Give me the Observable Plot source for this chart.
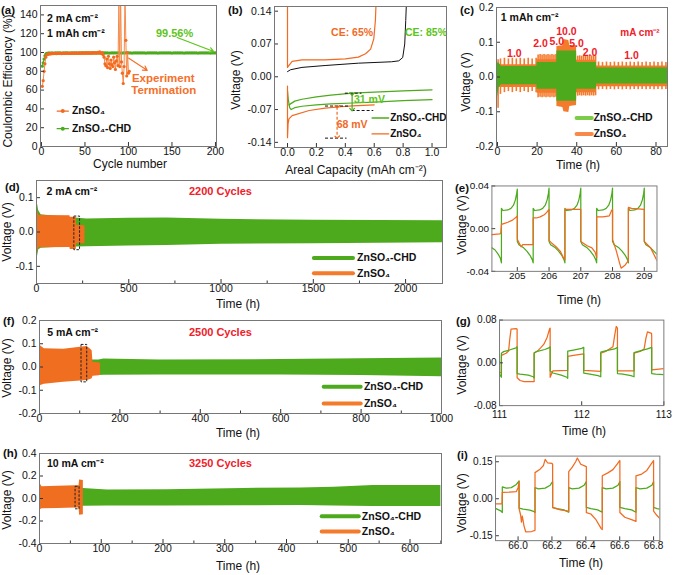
<!DOCTYPE html>
<html><head><meta charset="utf-8">
<script src="https://cdn.jsdelivr.net/npm/d3@7"></script>
<script src="https://cdn.jsdelivr.net/npm/@observablehq/plot@0.6"></script>
<style>
body{margin:0;background:#fff;}
#root{position:relative;width:677px;height:575px;overflow:hidden;font-family:"Liberation Sans",Arial,sans-serif;color:#111;}
.lbl{position:absolute;white-space:nowrap;font-size:12px;line-height:1;transform:translate(-50%,-50%);}
.rot{transform:translate(-50%,-50%) rotate(-90deg);}
.pl{position:absolute;font-weight:bold;font-size:11.5px;line-height:1;white-space:nowrap;}
#clip{position:absolute;left:455px;top:175px;width:222px;height:400px;overflow:hidden;}
</style></head><body><div id="root"><div id="clip"></div></div><script>
// ---------- DATA ----------
// (a) Coulombic efficiency
const aGreen = [[1,85.5],[2,89],[3,93],[4,96.5],[5,98.4],[6,99],[7,99.2],[8,99.3],[9,99.4],[10,99.4],
[12,99.5],[14,99.4],[16,99.6],[18,99.5],[20,99.5],[22,99.6],[24,99.4],[26,99.5],[28,99.6],[30,99.5],
[32,99.4],[34,99.6],[36,99.5],[38,99.5],[40,99.6],[42,99.4],[44,99.5],[46,99.6],[48,99.5],[50,99.5],
[52,99.6],[54,99.5],[56,99.4],[58,99.6],[60,99.5],[62,99.5],[64,99.6],[66,99.4],[68,99.5],[70,99.6],
[72,99.5],[74,99.5],[76,99.6],[78,99.4],[80,99.5],[82,99.6],[84,99.5],[86,99.5],[88,99.6],[90,99.5],
[92,99.4],[94,99.6],[96,99.5],[98,99.5],[100,99.6],[102,99.5],[104,99.4],[106,99.6],[108,99.5],[110,99.5],
[112,99.6],[114,99.5],[116,99.5],[118,99.6],[120,99.4],[122,99.5],[124,99.6],[126,99.5],[128,99.5],[130,99.6],
[132,99.5],[134,99.4],[136,99.6],[138,99.5],[140,99.5],[142,99.6],[144,99.5],[146,99.5],[148,99.6],[150,99.4],
[152,99.5],[154,99.6],[156,99.5],[158,99.5],[160,99.6],[162,99.5],[164,99.4],[166,99.6],[168,99.5],[170,99.5],
[172,99.6],[174,99.5],[176,99.5],[178,99.6],[180,99.4],[182,99.5],[184,99.6],[186,99.5],[188,99.5],[190,99.6],
[192,99.5],[194,99.4],[196,99.6],[198,99.5],[200,99.6]];
const aOrangeCE = [64,70,80,88,95,97.5,98,98.3,98.5,98.6,
98.8,98.7,99,98.9,99.1,99,98.8,99.2,99,99.1,
99,99.2,98.9,99.1,99.3,99,99.2,99.1,99.3,99.2,
99.1,99.3,99.2,99,99.4,99.2,99.3,99.1,99.3,99.4,
99.2,99.3,99.5,99.2,99.4,99.3,99.5,99.4,99.2,99.6,
99.4,99.5,99.3,99.6,99.4,99.5,99.6,99.3,99.5,99.6,
99.5,99.7,99.4,99.6,100.2,99.5,100.6,99.4,98.9,99.8,
97.5,95,88,86,93,84,96,88,83,92,
87,85,95,89,82,91,96,86,158,85,
160,90,78,67,85,165,113,75,100,78,80];
const aOrangeCycle = [1,2,3,4,5,6,7,8,9,10,11,12,13,14,15,16,17,18,19,20,21,22,23,24,25,26,27,28,29,30,
31,32,33,34,35,36,37,38,39,40,41,42,43,44,45,46,47,48,49,50,51,52,53,54,55,56,57,58,59,60,
61,62,63,64,65,66,67,68,69,70,71,72,73,74,75,76,77,78,79,80,81,82,83,84,85,86,87,88,89,90,
91,92,93,94,95,96,97,98,99,100,101];

// (b) voltage profiles [capacity, voltage]
const bOrangeCharge = [[0,0.16],[0,0.02],[0.009,0.024],[0.032,0.033],[0.1,0.036],[0.26,0.036],[0.4,0.038],[0.49,0.042],[0.54,0.049],[0.575,0.059],[0.597,0.081],[0.608,0.12],[0.613,0.16]];
const bBlackCharge = [[0,0.011],[0.021,0.015],[0.1,0.02],[0.26,0.024],[0.49,0.029],[0.72,0.032],[0.77,0.034],[0.797,0.041],[0.811,0.07],[0.818,0.12],[0.823,0.16]];
const bOrangeDis = [[0,-0.02],[0,-0.13],[0.004,-0.1],[0.01,-0.09],[0.032,-0.083],[0.15,-0.072],[0.26,-0.067],[0.37,-0.064],[0.45,-0.062],[0.6,-0.06]];
const bGreenDisA = [[0.01,-0.06],[0.05,-0.052],[0.1,-0.048],[0.2,-0.043],[0.3,-0.039],[0.45,-0.035],[0.6,-0.033],[0.8,-0.03],[1.0,-0.028]];
const bGreenDisB = [[0,-0.03],[0.006,-0.05],[0.015,-0.066],[0.025,-0.07],[0.05,-0.066],[0.1,-0.063],[0.2,-0.06],[0.3,-0.058],[0.45,-0.056],[0.6,-0.054],[0.8,-0.051],[1.0,-0.049]];

// (c) rate test: plateau envelopes [time, upper, lower] and per-cycle peaks [time, peak, dip]
const cOrange = [[0,0.035,-0.03],[19.9,0.035,-0.03],[20,0.05,-0.047],[29.9,0.05,-0.047],
[30,0.088,-0.085],[33,0.09,-0.088],[33.5,0.108,-0.1],[36,0.105,-0.102],[36.5,0.09,-0.085],[39.9,0.09,-0.082],
[40,0.048,-0.045],[49.9,0.048,-0.045],[50,0.032,-0.028],[85.8,0.032,-0.028]];
const cOrangePeaks = [[0.3,0.05,-0.09],[1.5,0.052,-0.05],[3.5,0.054,-0.045],[5.5,0.052,-0.042],[7.5,0.054,-0.045],[9.5,0.052,-0.042],[11.5,0.054,-0.045],[13.5,0.052,-0.042],[15.5,0.054,-0.045],[17.5,0.052,-0.042],[19.5,0.054,-0.045],
[20.5,0.063,-0.06],[21.5,0.065,-0.058],[22.5,0.063,-0.06],[23.5,0.065,-0.058],[24.5,0.063,-0.06],[25.5,0.065,-0.058],[26.5,0.063,-0.06],[27.5,0.065,-0.058],[28.5,0.063,-0.06],[29.5,0.065,-0.058],
[40.5,0.06,-0.055],[41.5,0.061,-0.054],[42.5,0.06,-0.055],[43.5,0.061,-0.054],[44.5,0.06,-0.055],[45.5,0.061,-0.054],[46.5,0.06,-0.055],[47.5,0.061,-0.054],[48.5,0.06,-0.055],[49.5,0.061,-0.054],
[51,0.043,-0.037],[53,0.042,-0.036],[55,0.043,-0.037],[57,0.042,-0.036],[59,0.043,-0.037],[61,0.042,-0.036],[63,0.043,-0.037],[65,0.042,-0.036],[67,0.043,-0.037],[69,0.042,-0.036],
[71,0.043,-0.037],[73,0.042,-0.036],[75,0.043,-0.037],[77,0.042,-0.036],[79,0.043,-0.037],[81,0.042,-0.036],[83,0.043,-0.037],[85,0.042,-0.036]];
const cGreen = [[0,0.04,-0.06],[0.8,0.04,-0.03],[2,0.03,-0.022],[19.9,0.03,-0.022],[20,0.042,-0.035],[29.9,0.042,-0.035],
[30,0.075,-0.07],[39.9,0.075,-0.07],[40,0.042,-0.035],[49.9,0.042,-0.035],[50,0.026,-0.02],[85.8,0.026,-0.02]];
const cRates = [["1.0",8.5,0.068],["2.0",21.7,0.095],["5.0",29.9,0.102],["10.0",34.8,0.131],["5.0",39.9,0.095],["2.0",46.7,0.071],["1.0",67.6,0.061]];

// (d) 2 mA cm-2 envelopes
const dGreen = [[0,0.087,-0.077],[6,0.08,-0.07],[12,0.062,-0.052],[25,0.05,-0.047],[100,0.046,-0.045],[272,0.038,-0.043],[500,0.04,-0.041],[707,0.041,-0.039],[1000,0.037,-0.036],[1500,0.034,-0.034],[2200,0.033,-0.031]];
const dOrange = [[0,0.07,-0.103],[3,0.068,-0.08],[8,0.055,-0.05],[15,0.048,-0.046],[181,0.047,-0.045],[183,0.043,-0.051],[215,0.043,-0.051],[217,0.02,-0.034],[263,0.018,-0.034]];
const dBox = [[205,236,0.045,-0.053]];

// (e) zoom 204-209 h [time, voltage]
const eGreen = [[204.2,-0.018],[204.3,-0.02],[204.4,-0.024],[204.47,-0.028],[204.5,-0.032],[204.5,0.019],[204.55,0.017],[204.7,0.0175],[204.8,0.019],[204.88,0.022],[204.94,0.027],[204.98,0.033],[205,0.037],
[205,-0.012],[205.05,-0.015],[205.2,-0.018],[205.3,-0.021],[205.4,-0.025],[205.47,-0.029],[205.5,-0.032],[205.5,0.019],[205.55,0.017],[205.7,0.0175],[205.8,0.019],[205.88,0.022],[205.94,0.027],[205.98,0.033],[206,0.038],
[206,-0.012],[206.05,-0.015],[206.2,-0.018],[206.3,-0.021],[206.4,-0.025],[206.47,-0.029],[206.5,-0.032],[206.5,0.019],[206.55,0.017],[206.7,0.0175],[206.8,0.019],[206.88,0.022],[206.94,0.027],[206.98,0.033],[207,0.038],
[207,-0.012],[207.05,-0.015],[207.2,-0.018],[207.3,-0.021],[207.4,-0.025],[207.47,-0.029],[207.5,-0.032],[207.5,0.019],[207.55,0.017],[207.7,0.0175],[207.8,0.019],[207.88,0.022],[207.94,0.027],[207.98,0.033],[208,0.038],
[208,-0.012],[208.05,-0.015],[208.2,-0.018],[208.3,-0.021],[208.4,-0.025],[208.47,-0.029],[208.5,-0.032],[208.5,0.019],[208.55,0.017],[208.7,0.0175],[208.8,0.019],[208.88,0.022],[208.94,0.027],[208.98,0.033],[209,0.038],
[209,-0.012],[209.05,-0.015],[209.2,-0.018],[209.3,-0.021],[209.4,-0.024]];
const eOrange = [[204.2,-0.0056],[204.45,-0.005],[204.48,-0.004],[204.5,0.004],[204.6,0.005],[204.7,0.006],[204.85,0.008],[204.97,0.011],[205,0.012],
[205,-0.01],[205.05,-0.013],[205.12,-0.017],[205.17,-0.015],[205.3,-0.015],[205.5,-0.015],[205.5,0.01],[205.6,0.01],[205.72,0.011],[205.85,0.013],[205.92,0.015],[205.97,0.017],[206,0.018],
[206,-0.011],[206.1,-0.014],[206.22,-0.017],[206.35,-0.021],[206.45,-0.027],[206.5,-0.029],[206.5,0.018],[206.7,0.018],[206.9,0.018],[207,0.018],
[207,-0.012],[207.2,-0.016],[207.35,-0.018],[207.45,-0.022],[207.5,-0.027],[207.5,0.011],[207.7,0.011],[207.9,0.012],[207.97,0.017],[208,0.018],
[208,-0.01],[208.12,-0.021],[208.22,-0.032],[208.27,-0.037],[208.4,-0.034],[208.5,-0.03],[208.5,0.02],[208.6,0.019],[208.99,0.018],[209,0.018],
[209,-0.012],[209.2,-0.018],[209.4,-0.03]];

// (f) 5 mA cm-2 envelopes
const fGreen = [[0,0.03,-0.04],[148,0.03,-0.037],[160,0.034,-0.036],[300,0.03,-0.034],[600,0.032,-0.034],[800,0.036,-0.037],[1000,0.039,-0.042]];
const fOrange = [[0,0.109,-0.09],[3,0.09,-0.08],[12,0.078,-0.074],[60,0.076,-0.066],[102,0.085,-0.06],[118,0.088,-0.058],[125,0.08,-0.055],[131,0.07,-0.05],[133,0.02,-0.04],[148,0.018,-0.038],[152,0.015,-0.035]];
const fBox = [[104.5,118.7,0.095,-0.066]];

// (g) zoom 111-113 h
const gGreen = [[111,-0.021],[111.015,-0.025],[111.023,-0.027],[111.023,0.018],[111.05,0.021],[111.12,0.024],[111.2,0.028],[111.214,0.03],
[111.214,-0.02],[111.25,-0.021],[111.35,-0.023],[111.41,-0.026],[111.421,-0.028],[111.421,0.019],[111.45,0.021],[111.55,0.025],[111.6,0.028],[111.616,0.03],
[111.616,-0.015],[111.65,-0.019],[111.75,-0.023],[111.82,-0.027],[111.83,-0.029],[111.83,0.022],[111.9,0.024],[112,0.027],[112.025,0.029],
[112.025,-0.019],[112.1,-0.021],[112.2,-0.024],[112.232,-0.026],[112.232,0.02],[112.3,0.023],[112.4,0.026],[112.435,0.029],
[112.435,-0.02],[112.5,-0.021],[112.6,-0.024],[112.637,-0.026],[112.637,0.019],[112.7,0.022],[112.8,0.026],[112.852,0.029],
[112.852,-0.02],[112.9,-0.021],[113,-0.022]];
const gOrange = [[111,-0.018],[111.02,-0.019],[111.023,0.014],[111.08,0.018],[111.11,0.022],[111.125,0.045],[111.14,0.063],[111.2,0.064],[111.214,0.063],
[111.214,-0.028],[111.25,-0.033],[111.3,-0.035],[111.421,-0.035],[111.421,0.018],[111.46,0.022],[111.5,0.028],[111.54,0.035],[111.58,0.048],[111.61,0.064],[111.616,0.065],
[111.616,-0.027],[111.63,-0.022],[111.65,-0.015],[111.83,-0.014],[111.83,0.012],[111.9,0.014],[112.025,0.017],
[112.025,-0.014],[112.232,-0.016],[112.232,0.018],[112.3,0.022],[112.38,0.03],[112.4,0.05],[112.42,0.068],[112.435,0.065],
[112.435,-0.015],[112.637,-0.015],[112.637,0.018],[112.72,0.022],[112.76,0.026],[112.78,0.045],[112.8,0.058],[112.85,0.055],[112.852,0.05],
[112.852,-0.013],[113,-0.011]];

// (h) 10 mA cm-2 envelopes
const hGreen = [[0,0.09,-0.068],[71,0.09,-0.068],[110,0.076,-0.066],[206,0.078,-0.066],[330,0.09,-0.064],[423,0.093,-0.063],[477,0.1,-0.066],[540,0.116,-0.07],[650,0.116,-0.072]];
const hOrange = [[0,0.14,-0.104],[4,0.104,-0.092],[30,0.108,-0.088],[58,0.113,-0.084],[64,0.113,-0.084],[65,0.164,-0.149],[71,0.16,-0.145]];
const hBox = [[58.4,64.9,0.104,-0.096]];

// (i) zoom 65.9-66.8 h
const iGreen = [[65.87,-0.04],[65.9,-0.05],[65.907,-0.056],[65.907,0.048],[65.93,0.043],[65.96,0.045],[65.99,0.058],[66.006,0.072],
[66.006,-0.038],[66.03,-0.042],[66.07,-0.046],[66.095,-0.052],[66.1,-0.056],[66.1,0.045],[66.12,0.04],[66.16,0.043],[66.19,0.055],[66.204,0.07],
[66.204,-0.035],[66.23,-0.04],[66.27,-0.045],[66.299,-0.055],[66.299,0.045],[66.32,0.04],[66.36,0.043],[66.39,0.055],[66.403,0.07],
[66.403,-0.035],[66.43,-0.04],[66.47,-0.045],[66.497,-0.055],[66.497,0.045],[66.52,0.04],[66.56,0.043],[66.59,0.055],[66.601,0.07],
[66.601,-0.035],[66.63,-0.04],[66.67,-0.045],[66.696,-0.055],[66.696,0.045],[66.72,0.04],[66.76,0.043],[66.79,0.055],[66.8,0.07],
[66.8,-0.035],[66.82,-0.04],[66.84,-0.042]];
const iOrange = [[65.87,-0.021],[65.905,-0.021],[65.907,0.026],[65.95,0.027],[65.99,0.029],[66,0.045],[66.006,0.07],
[66.006,-0.04],[66.015,-0.066],[66.02,-0.095],[66.025,-0.07],[66.035,-0.11],[66.045,-0.134],[66.08,-0.133],[66.1,-0.128],
[66.1,0.106],[66.13,0.12],[66.15,0.135],[66.16,0.16],[66.175,0.145],[66.2,0.143],[66.204,0.14],
[66.204,-0.036],[66.25,-0.045],[66.299,-0.05],[66.299,0.11],[66.32,0.128],[66.34,0.15],[66.35,0.165],[66.37,0.14],[66.403,0.13],
[66.403,-0.056],[66.43,-0.062],[66.46,-0.085],[66.49,-0.12],[66.497,-0.125],[66.497,0.093],[66.53,0.105],[66.56,0.118],[66.585,0.14],[66.6,0.155],[66.601,0.155],
[66.601,-0.056],[66.63,-0.075],[66.67,-0.085],[66.696,-0.092],[66.696,0.093],[66.73,0.1],[66.76,0.115],[66.785,0.14],[66.8,0.155],
[66.8,-0.05],[66.82,-0.068],[66.84,-0.082]];

// ---------- STYLE ----------
const GREEN = "#4caa1c", ORANGE = "#f26a1f", BAND_OR = "#ef6e20", RED = "#f0202a", LGREEN = "#5cc41a";
const FONT = '"Liberation Sans", Arial, sans-serif';
const root = document.getElementById("root");
const clip = document.getElementById("clip");
const f1 = d => d.toFixed(1), f2 = d => d.toFixed(2), f0 = d => String(d);

function axes(xt, yt, xf, yf, xm, ym, xpad = 5) {
  const m = [
    Plot.axisX(xt, {tickSize: -4, tickPadding: xpad, tickFormat: xf, label: null, stroke: "#333"}),
    Plot.axisY(yt, {tickSize: -4, tickPadding: 7, tickFormat: yf, label: null, stroke: "#333"})
  ];
  if (xm) m.push(Plot.axisX(xm, {tickSize: -2.5, tickFormat: () => "", label: null, stroke: "#333"}));
  if (ym) m.push(Plot.axisY(ym, {tickSize: -2.5, tickFormat: () => "", label: null, stroke: "#333"}));
  return m;
}
function panel(frame, x, y, marks, parent = root, ox = 0, oy = 0) {
  const [L, T, R, B] = frame;
  const ml = 50, mt = 10, mr = 10, mb = 30;
  const svg = Plot.plot({
    width: R - L + ml + mr, height: B - T + mt + mb,
    marginLeft: ml, marginTop: mt, marginRight: mr, marginBottom: mb,
    x: {...x, label: null}, y: {...y, label: null},
    style: {fontFamily: FONT, fontSize: "10.5px", background: "transparent", overflow: "visible", color: "#111"},
    marks: [...marks, Plot.frame({stroke: "#777"})]
  });
  svg.style.position = "absolute";
  svg.style.left = (L - ml - ox) + "px";
  svg.style.top = (T - mt - oy) + "px";
  parent.appendChild(svg);
}
function html(cls, text, x, y, parent = root) {
  const d = document.createElement("div");
  d.className = cls; d.innerHTML = text;
  d.style.left = x + "px"; d.style.top = y + "px";
  parent.appendChild(d);
}
const X = d => d[0], Y = d => d[1];
const band = (data, fill) => Plot.areaY(data, {x: d => d[0], y1: d => d[2], y2: d => d[1], fill, clip: true});
const boxMark = data => Plot.rect(data, {x1: d => d[0], x2: d => d[1], y1: d => d[3], y2: d => d[2], stroke: "#222", strokeDasharray: "2.5,1.5", fill: "none", strokeWidth: 1});
const bold = {fontWeight: "bold", textAnchor: "start"};

// ---------- (a) ----------
const aOrange = aOrangeCycle.map((c, i) => [c, aOrangeCE[i]]);
panel([40, 5, 216, 146], {domain: [-1.1, 201.2]}, {domain: [0, 150]}, [
  Plot.line(aGreen, {x: X, y: Y, stroke: GREEN, strokeWidth: 1, clip: true}),
  Plot.dot(aGreen, {x: X, y: Y, r: 1.6, fill: GREEN, clip: true}),
  Plot.line(aOrange, {x: X, y: Y, stroke: "#f58a4a", strokeWidth: 1, clip: true}),
  Plot.dot(aOrange, {x: X, y: Y, r: 1.6, fill: ORANGE, clip: true}),
  Plot.line([[18, 37.7], [31, 37.7]], {x: X, y: Y, stroke: ORANGE, strokeWidth: 1.2}),
  Plot.dot([[24.5, 37.7]], {x: X, y: Y, r: 2, fill: ORANGE}),
  Plot.line([[18, 19], [31, 19]], {x: X, y: Y, stroke: GREEN, strokeWidth: 1.2}),
  Plot.dot([[24.5, 19]], {x: X, y: Y, r: 2, fill: GREEN}),
  Plot.text([[35, 37.7, "ZnSO₄"], [35, 19, "ZnSO₄-CHD"]], {x: X, y: Y, text: d => d[2], ...bold, fontSize: 10.5}),
  Plot.text([[6.5, 136, "2 mA cm⁻²"], [6.5, 120, "1 mAh cm⁻²"]], {x: X, y: Y, text: d => d[2], ...bold, fontSize: 10.5}),
  Plot.text([[153, 120, "99.56%"]], {x: X, y: Y, text: d => d[2], fill: LGREEN, fontWeight: "bold", fontSize: 11}),
  Plot.arrow([[156, 116, 198, 101]], {x1: d => d[0], y1: d => d[1], x2: d => d[2], y2: d => d[3], stroke: LGREEN, strokeWidth: 1.2, headLength: 6}),
  Plot.text([[140, 73, "Experiment"], [140.6, 59.6, "Termination"]], {x: X, y: Y, text: d => d[2], fill: "#f5702a", fontWeight: "bold", fontSize: 11.5}),
  Plot.arrow([[100.4, 94, 121.5, 81]], {x1: d => d[0], y1: d => d[1], x2: d => d[2], y2: d => d[3], stroke: "#f5702a", strokeWidth: 1.2, headLength: 6}),
  ...axes([0, 50, 100, 150, 200], [0, 20, 40, 60, 80, 100, 120, 140], f0, f0)
]);

// ---------- (b) ----------
panel([274, 6, 446, 147], {domain: [-0.09, 1.1]}, {domain: [-0.151, 0.15]}, [
  Plot.line(bBlackCharge, {x: X, y: Y, stroke: "#111", strokeWidth: 1, clip: true}),
  Plot.line(bOrangeCharge, {x: X, y: Y, stroke: ORANGE, strokeWidth: 1.2, clip: true}),
  Plot.line(bGreenDisA, {x: X, y: Y, stroke: GREEN, strokeWidth: 1.2, clip: true}),
  Plot.line(bGreenDisB, {x: X, y: Y, stroke: GREEN, strokeWidth: 1.2, clip: true}),
  Plot.line(bOrangeDis, {x: X, y: Y, stroke: ORANGE, strokeWidth: 1.2, clip: true}),
  Plot.ruleY([[0.4, 0.515, -0.035], [0.447, 0.597, -0.072], [0.263, 0.424, -0.0625], [0.263, 0.412, -0.131]],
    {x1: d => d[0], x2: d => d[1], y: d => d[2], stroke: "#111", strokeDasharray: "3,2"}),
  Plot.link([[0.447, -0.037, 0.447, -0.07]], {x1: d => d[0], y1: d => d[1], x2: d => d[2], y2: d => d[3], stroke: GREEN, strokeWidth: 1.2, markerStart: "arrow", markerEnd: "arrow"}),
  Plot.link([[0.343, -0.064, 0.343, -0.129]], {x1: d => d[0], y1: d => d[1], x2: d => d[2], y2: d => d[3], stroke: ORANGE, strokeWidth: 1.2, strokeDasharray: "3,2", markerStart: "arrow", markerEnd: "arrow"}),
  Plot.text([[0.447, 0.094, "CE: 65%"]], {x: X, y: Y, text: d => d[2], fill: ORANGE, fontWeight: "bold", fontSize: 10.5}),
  Plot.text([[0.958, 0.094, "CE: 85%"]], {x: X, y: Y, text: d => d[2], fill: LGREEN, fontWeight: "bold", fontSize: 10.5}),
  Plot.text([[0.567, -0.049, "31 mV"]], {x: X, y: Y, text: d => d[2], fill: LGREEN, fontWeight: "bold", fontSize: 10.5}),
  Plot.text([[0.447, -0.103, "68 mV"]], {x: X, y: Y, text: d => d[2], fill: ORANGE, fontWeight: "bold", fontSize: 10.5}),
  Plot.line([[0.585, -0.088], [0.7, -0.088]], {x: X, y: Y, stroke: GREEN, strokeWidth: 1.3}),
  Plot.line([[0.585, -0.122], [0.7, -0.122]], {x: X, y: Y, stroke: ORANGE, strokeWidth: 1.3}),
  Plot.text([[0.71, -0.088, "ZnSO₄-CHD"], [0.71, -0.122, "ZnSO₄"]], {x: X, y: Y, text: d => d[2], ...bold, fontSize: 10}),
  ...axes([0, 0.2, 0.4, 0.6, 0.8, 1.0], [-0.14, -0.07, 0, 0.07, 0.14], f1, f2)
]);

// ---------- (c) ----------
panel([496, 7, 667, 146], {domain: [-0.5, 85.8]}, {domain: [-0.2, 0.2]}, [
  band(cOrange, "#f47a2c"),
  Plot.ruleX(cOrangePeaks, {x: d => d[0], y1: d => d[2], y2: d => d[1], stroke: "#f47a2c", strokeWidth: 1.6, clip: true}),
  band(cGreen, GREEN),
  Plot.text(cRates, {x: d => d[1], y: d => d[2], text: d => d[0], fill: RED, fontWeight: "bold", fontSize: 10.5}),
  Plot.text([[1.7, 0.171, "1 mAh cm⁻²"]], {x: X, y: Y, text: d => d[2], ...bold, fontSize: 10.5}),
  Plot.text([[62, 0.126, "mA cm⁻²"]], {x: X, y: Y, text: d => d[2], ...bold, fill: RED, fontSize: 10}),
  Plot.line([[39.9, -0.118], [47.6, -0.118]], {x: X, y: Y, stroke: "#7ccc4a", strokeWidth: 4}),
  Plot.line([[39.9, -0.164], [47.6, -0.164]], {x: X, y: Y, stroke: "#f78a4a", strokeWidth: 4}),
  Plot.text([[48.4, -0.118, "ZnSO₄-CHD"], [48.4, -0.164, "ZnSO₄"]], {x: X, y: Y, text: d => d[2], ...bold, fontSize: 10.5}),
  ...axes([0, 20, 40, 60, 80], [-0.2, -0.1, 0, 0.1, 0.2], f0, f1)
]);

// ---------- (d) ----------
panel([36, 180, 442, 283], {domain: [0, 2200]}, {domain: [-0.15, 0.15]}, [
  band(dGreen, GREEN),
  band(dOrange, BAND_OR),
  boxMark(dBox),
  Plot.text([[54, 0.119, "2 mA cm⁻²"]], {x: X, y: Y, text: d => d[2], ...bold, fontSize: 10.5}),
  Plot.text([[997, 0.119, "2200 Cycles"]], {x: X, y: Y, text: d => d[2], fill: RED, fontWeight: "bold", fontSize: 11}),
  Plot.line([[1503, -0.076], [1715, -0.076]], {x: X, y: Y, stroke: GREEN, strokeWidth: 4}),
  Plot.line([[1503, -0.12], [1715, -0.12]], {x: X, y: Y, stroke: "#f47a2c", strokeWidth: 4}),
  Plot.text([[1737, -0.076, "ZnSO₄-CHD"], [1737, -0.12, "ZnSO₄"]], {x: X, y: Y, text: d => d[2], ...bold, fontSize: 10.5}),
  ...axes([0, 500, 1000, 1500, 2000], [-0.1, 0, 0.1], f0, f1, [250, 750, 1250, 1750])
]);

// ---------- (f) ----------
panel([39, 320, 441, 413], {domain: [0, 1000]}, {domain: [-0.2, 0.2]}, [
  band(fGreen, GREEN),
  band(fOrange, BAND_OR),
  boxMark(fBox),
  Plot.text([[19, 0.149, "5 mA cm⁻²"]], {x: X, y: Y, text: d => d[2], ...bold, fontSize: 10.5}),
  Plot.text([[450, 0.149, "2500 Cycles"]], {x: X, y: Y, text: d => d[2], fill: RED, fontWeight: "bold", fontSize: 11}),
  Plot.line([[707, -0.085], [799, -0.085]], {x: X, y: Y, stroke: GREEN, strokeWidth: 4}),
  Plot.line([[707, -0.157], [799, -0.157]], {x: X, y: Y, stroke: "#f47a2c", strokeWidth: 4}),
  Plot.text([[807, -0.085, "ZnSO₄-CHD"], [807, -0.157, "ZnSO₄"]], {x: X, y: Y, text: d => d[2], ...bold, fontSize: 10.5}),
  ...axes([0, 200, 400, 600, 800, 1000], [-0.2, -0.1, 0, 0.1, 0.2], f0, f1, [100, 300, 500, 700, 900])
]);

// ---------- (h) ----------
panel([39, 453, 441, 543], {domain: [0, 651]}, {domain: [-0.4, 0.4]}, [
  band(hGreen, GREEN),
  band(hOrange, BAND_OR),
  boxMark(hBox),
  Plot.text([[12, 0.31, "10 mA cm⁻²"]], {x: X, y: Y, text: d => d[2], ...bold, fontSize: 10.5}),
  Plot.text([[293, 0.31, "3250 Cycles"]], {x: X, y: Y, text: d => d[2], fill: RED, fontWeight: "bold", fontSize: 11}),
  Plot.line([[457, -0.158], [517, -0.158]], {x: X, y: Y, stroke: GREEN, strokeWidth: 4}),
  Plot.line([[457, -0.293], [517, -0.293]], {x: X, y: Y, stroke: "#f47a2c", strokeWidth: 4}),
  Plot.text([[522, -0.158, "ZnSO₄-CHD"], [522, -0.293, "ZnSO₄"]], {x: X, y: Y, text: d => d[2], ...bold, fontSize: 10.5}),
  ...axes([0, 100, 200, 300, 400, 500, 600], [-0.4, -0.2, 0, 0.2, 0.4], f0, f1, [50, 150, 250, 350, 450, 550, 650])
]);

// ---------- (e), (g), (i) inside the right column ----------
panel([494, 186, 668, 276], {domain: [204.2, 209.4]}, {domain: [-0.04, 0.04]}, [
  Plot.line(eGreen, {x: X, y: Y, stroke: GREEN, strokeWidth: 1.3, clip: true}),
  Plot.line(eOrange, {x: X, y: Y, stroke: ORANGE, strokeWidth: 1.3, clip: true}),
  ...axes([205, 206, 207, 208, 209], [-0.04, 0, 0.04], f0, f2)
], clip, 455, 175);
panel([501, 320, 672, 409], {domain: [111, 113]}, {domain: [-0.08, 0.08]}, [
  Plot.line(gOrange, {x: X, y: Y, stroke: ORANGE, strokeWidth: 1.3, clip: true}),
  Plot.line(gGreen, {x: X, y: Y, stroke: GREEN, strokeWidth: 1.3, clip: true}),
  ...axes([111, 112, 113], [-0.08, 0, 0.08], f0, f2, null, null, 9)
], clip, 455, 175);
panel([497, 456, 668, 544], {domain: [65.867, 66.837]}, {domain: [-0.17, 0.173]}, [
  Plot.line(iGreen, {x: X, y: Y, stroke: GREEN, strokeWidth: 1.3, clip: true}),
  Plot.line(iOrange, {x: X, y: Y, stroke: ORANGE, strokeWidth: 1.3, clip: true}),
  ...axes([66.0, 66.2, 66.4, 66.6, 66.8], [-0.15, 0, 0.15], f1, f2)
], clip, 455, 175);

// ---------- panel letters & axis titles ----------
html("pl", "(a)", 1, 5); html("pl", "(b)", 228, 5); html("pl", "(c)", 460, 5);
html("pl", "(d)", 5, 182); html("pl", "(f)", 3, 316); html("pl", "(h)", 3, 448);
html("pl", "(e)", 0, 8, clip); html("pl", "(g)", 1, 141, clip); html("pl", "(i)", 2, 275, clip);

html("lbl rot", "Coulombic Efficiency (%)", 8, 81);
html("lbl", "Cycle number", 130, 164);
html("lbl rot", "Voltage (V)", 236, 80);
html("lbl", "Areal Capacity (mAh cm⁻²)", 356, 170);
html("lbl rot", "Voltage (V)", 466, 82);
html("lbl", "Time (h)", 578, 165);
html("lbl rot", "Voltage (V)", 7, 232);
html("lbl", "Time (h)", 238, 304);
html("lbl rot", "Voltage (V)", 7, 368);
html("lbl", "Time (h)", 238, 433);
html("lbl rot", "Voltage (V)", 7, 500);
html("lbl", "Time (h)", 238, 566);
html("lbl rot", "Voltage (V)", 7, 50, clip);
html("lbl", "Time (h)", 124, 125, clip);
html("lbl rot", "Voltage (V)", 7, 190, clip);
html("lbl", "Time (h)", 129, 256, clip);
html("lbl rot", "Voltage (V)", 7, 328, clip);
html("lbl", "Time (h)", 126, 388, clip);
</script></body></html>
